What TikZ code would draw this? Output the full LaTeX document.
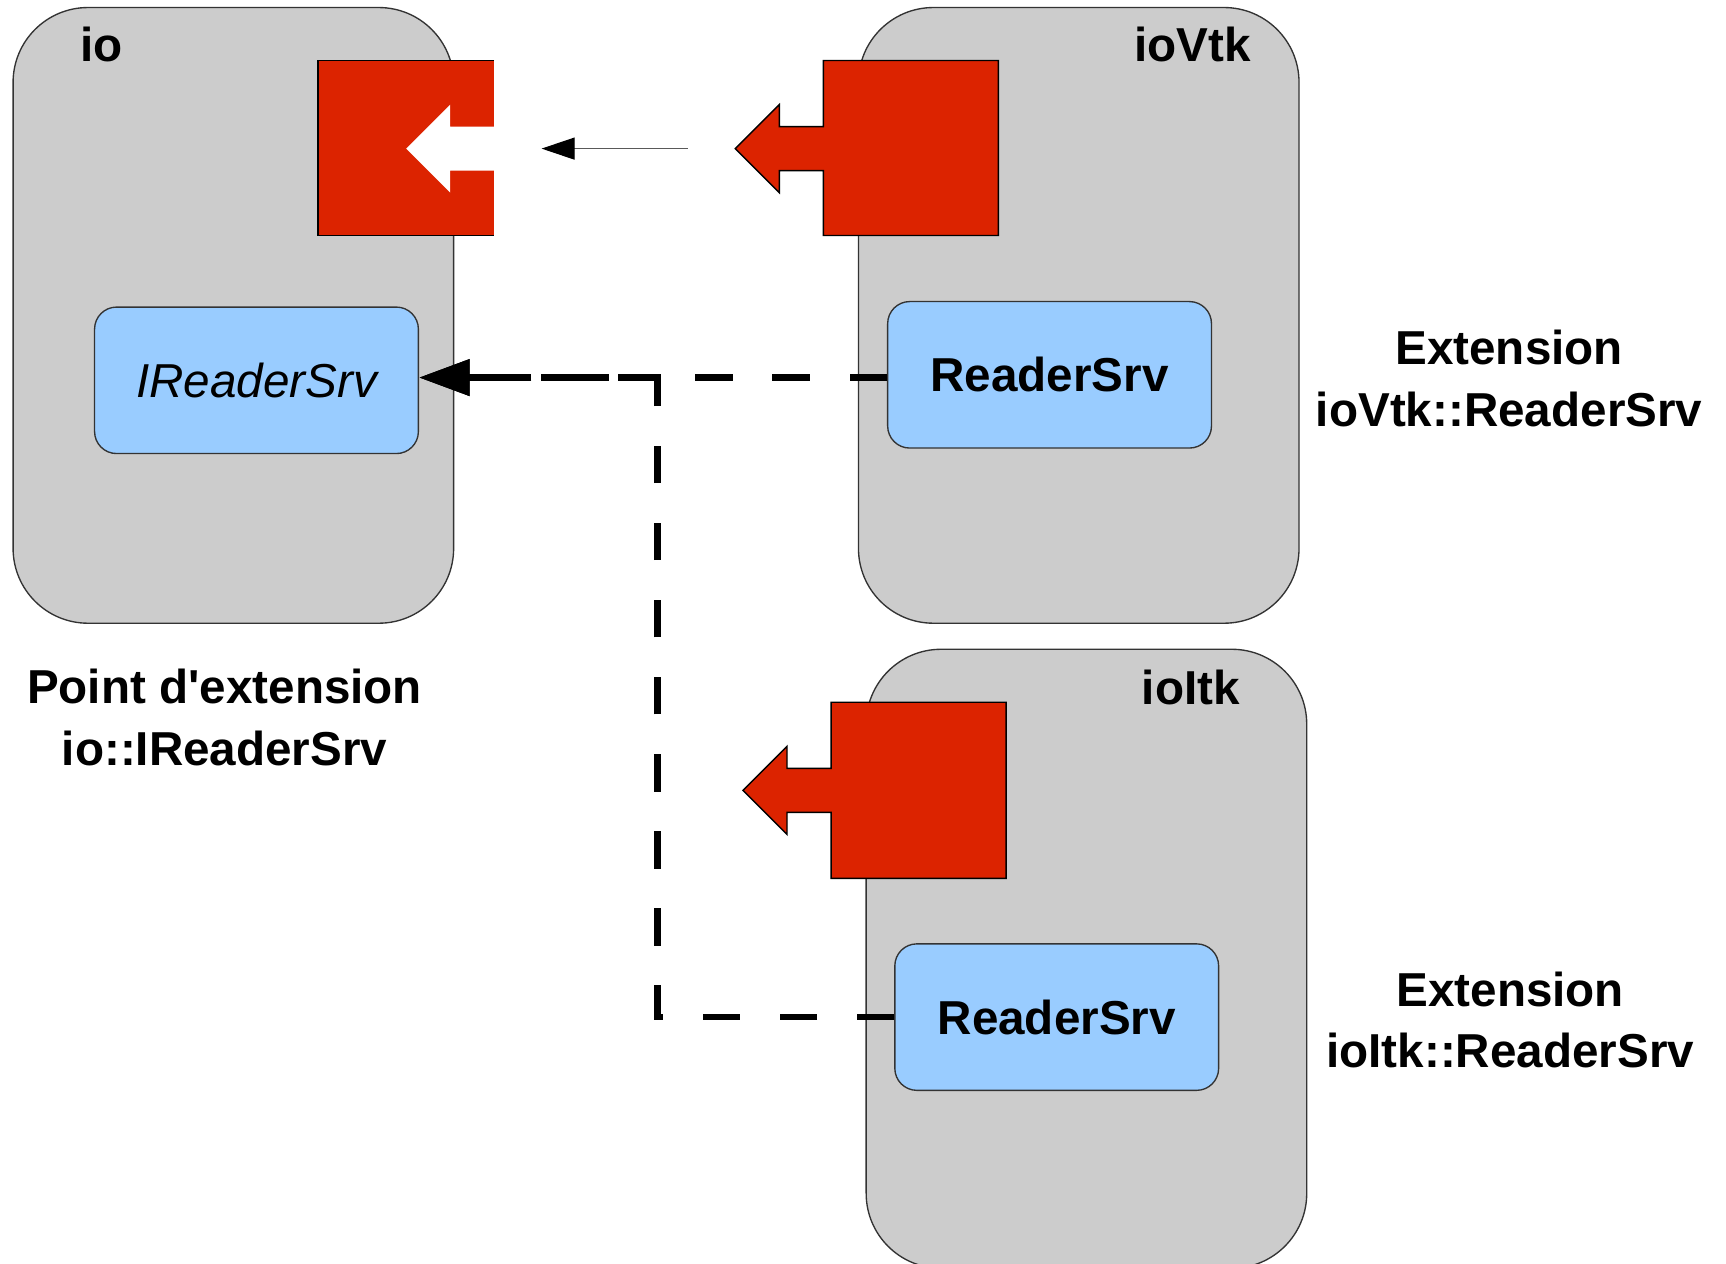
\documentclass[tikz,border=0pt]{standalone}
\usepackage{fontspec}
\setmainfont{Liberation Sans}
\usetikzlibrary{arrows.meta}
\definecolor{modgray}{HTML}{CCCCCC}
\definecolor{plugred}{HTML}{DC2300}
\definecolor{srvblue}{HTML}{99CCFF}
\definecolor{edgegray}{HTML}{333333}
\newcommand\lblfont{\fontsize{12.3pt}{15.9pt}\selectfont}

\begin{document}
\begin{tikzpicture}[x=0.01cm, y=-0.01cm,
  module/.style={draw=edgegray, line width=0.35pt, fill=modgray,
    rounded corners=0.68cm, minimum width=4cm, minimum height=5.59cm, inner sep=0pt},
  service/.style={draw=edgegray, line width=0.35pt, fill=srvblue,
    rounded corners=0.2cm, minimum width=2.94cm, minimum height=1.33cm, inner sep=0pt},
  lbl/.style={inner sep=0pt, font=\lblfont\bfseries},
  plug/.style={fill=plugred, draw=black, line width=0.35pt},
  extlink/.style={line width=1.75pt, dash pattern=on 0.34cm off 0.36cm,
    -{Triangle[length=0.46cm, width=0.32cm]}},
  plugarrow/.style={draw=black!65, line width=0.3pt,
    -{Triangle[length=0.3cm, width=0.2cm, black]}}
]
\useasboundingbox (0,0) rectangle (1568,1148);
\fill[white] (0,0) rectangle (1568,1148);

% bundles
\node[module] (io) at (212,286.5) {};
\node[module] (iovtk) at (980,286.5) {};
\node[module, minimum height=5.62cm] (ioitk) at (987,871) {};

% extension point plug of io (square with a notch)
\fill[plugred] (289,55) rectangle (449,214);
\fill[white] (449,115) -- (409,115) -- (409,95) -- (369,135) -- (409,175)
  -- (409,155) -- (449,155) -- cycle;
\draw[line width=0.35pt] (449,55) -- (289,55) -- (289,214) -- (449,214);
\coordinate (ioplug) at (449,135);

% extension plugs of ioVtk and ioItk
\draw[plug] (748,55) -- (907,55) -- (907,214) -- (748,214) -- (748,155)
  -- (708,155) -- (708,175) -- (668,135) -- (708,95) -- (708,115)
  -- (748,115) -- cycle;
\coordinate (vtkplug) at (668,135);
\draw[plug] (755,638) -- (914,638) -- (914,798) -- (755,798) -- (755,738)
  -- (715,738) -- (715,758) -- (675,718) -- (715,678) -- (715,698)
  -- (755,698) -- cycle;

\draw[plugarrow, shorten <=0.43cm, shorten >=0.43cm] (vtkplug) -- (ioplug);

% services
\node[service, font=\lblfont\itshape] (irs) at (233,345.5) {IReaderSrv};
\node[service, font=\lblfont\bfseries] (vtkrs) at (953.5,340.5) {ReaderSrv};
\node[service, font=\lblfont\bfseries] (itkrs) at (960,924) {ReaderSrv};

% implementation links
\coordinate (join) at (597,343);
\coordinate (bend) at (597,924);
\draw[extlink] (vtkrs.west |- join) -- (irs.east |- join);
\draw[extlink] (itkrs.west) -- (bend) -- (join) -- (irs.east |- join);

% titles (two-line labels sit on the baseline of their last line)
\node[lbl, anchor=base west] (iolbl) at (72,56) {io};
\node[lbl, anchor=base east] (vtklbl) at (1137,56) {ioVtk};
\node[lbl, anchor=base east] (itklbl) at (1127,640) {ioItk};
\node[lbl, align=center, anchor=base] (ptlbl) at (204,695)
  {Point d\textquotesingle extension\\io::IReaderSrv};
\node[lbl, align=center, anchor=base] (ext1) at (1371,387)
  {Extension\\ioVtk::ReaderSrv};
\node[lbl, align=center, anchor=base] (ext2) at (1372,970)
  {Extension\\ioItk::ReaderSrv};
\end{tikzpicture}
\end{document}
